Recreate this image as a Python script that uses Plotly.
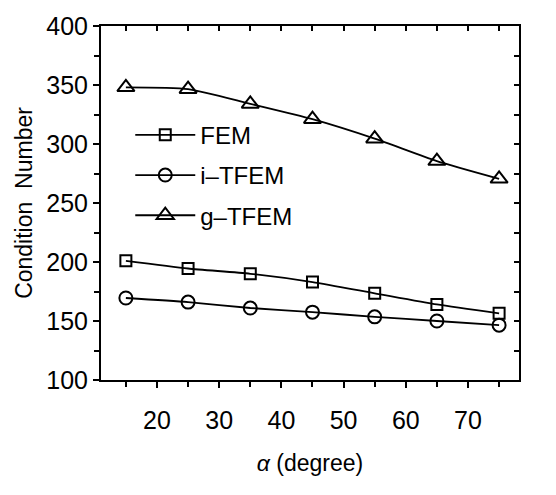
import plotly.graph_objects as go

alpha = [15, 25, 35, 45, 55, 65, 75]
fem = [201, 194.5, 190, 183, 173.5, 164, 156.5]
itfem = [169.5, 166, 161, 157.5, 153.5, 150, 146.5]
gtfem = [348, 346.5, 334, 321, 304.5, 285.5, 270.5]

FONT = "Liberation Sans Narrow, Liberation Sans, Arial, sans-serif"

fig = go.Figure()
series = [("FEM", fem, "square-open", 11), ("i\u2013TFEM", itfem, "circle-open", 13),
          ("g\u2013TFEM", gtfem, "triangle-up-open", 15)]
for i, (name, ys, sym, sz) in enumerate(series):
    fig.add_trace(go.Scatter(
        x=alpha, y=ys, name=name, mode="lines+markers",
        line=dict(color="black", width=1.8, shape="spline", smoothing=0.6),
        marker=dict(symbol=sym, size=sz, color="black", line=dict(width=2, color="black")),
        legendgroup=f"g{i}",
    ))

common_x = dict(range=[11, 78.2], showline=True, linecolor="black", linewidth=2,
                showgrid=False, zeroline=False)
common_y = dict(range=[100, 400], showline=True, linecolor="black",
                showgrid=False, zeroline=False)

fig.update_layout(
    width=556, height=495,
    margin=dict(l=101, r=37, t=20, b=115),
    paper_bgcolor="white", plot_bgcolor="white",
    font=dict(family=FONT, color="black", size=22),
    showlegend=True,
    legend=dict(x=0.07, y=0.755, xanchor="left", yanchor="top", bgcolor="rgba(0,0,0,0)",
                font=dict(size=24), tracegroupgap=6, traceorder="grouped", itemwidth=60),
    xaxis=dict(**common_x, tickvals=[20, 30, 40, 50, 60, 70], ticks="outside", ticklen=6,
               tickwidth=2, tickcolor="black", tickfont=dict(size=25),
               ticklabelstandoff=11,
               minor=dict(tickvals=[15, 25, 35, 45, 55, 65, 75], ticks="outside", ticklen=5,
                          tickwidth=2, tickcolor="black"),
               title=dict(text="<i>\u03b1</i> (degree)", font=dict(size=23), standoff=22)),
    yaxis=dict(**common_y, linewidth=2, tickvals=[100, 150, 200, 250, 300, 350, 400], ticks="outside",
               ticklen=6, tickwidth=2, tickcolor="black", tickfont=dict(size=25),
               minor=dict(tickvals=[125, 175, 225, 275, 325, 375], ticks="outside", ticklen=5,
                          tickwidth=2, tickcolor="black"),
               title=dict(text="Condition  Number", font=dict(size=23), standoff=7)),
    xaxis2=dict(**common_x, overlaying="x", side="top", showticklabels=False,
                tickvals=[15, 20, 25, 30, 35, 40, 45, 50, 55, 60, 65, 70, 75],
                ticks="inside", ticklen=5, tickwidth=2, tickcolor="black"),
    yaxis2=dict(**common_y, overlaying="y", side="right", showticklabels=False,
                tickvals=[125, 150, 175, 200, 225, 250, 275, 300, 325, 350, 375],
                ticks="inside", ticklen=5, tickwidth=1.5, tickcolor="black", linewidth=1.5),
)
# invisible trace to activate secondary axes
fig.add_trace(go.Scatter(x=[None], y=[None], xaxis="x2", yaxis="y2", showlegend=False,
                         hoverinfo="skip"))
fig.write_html("out.html")
